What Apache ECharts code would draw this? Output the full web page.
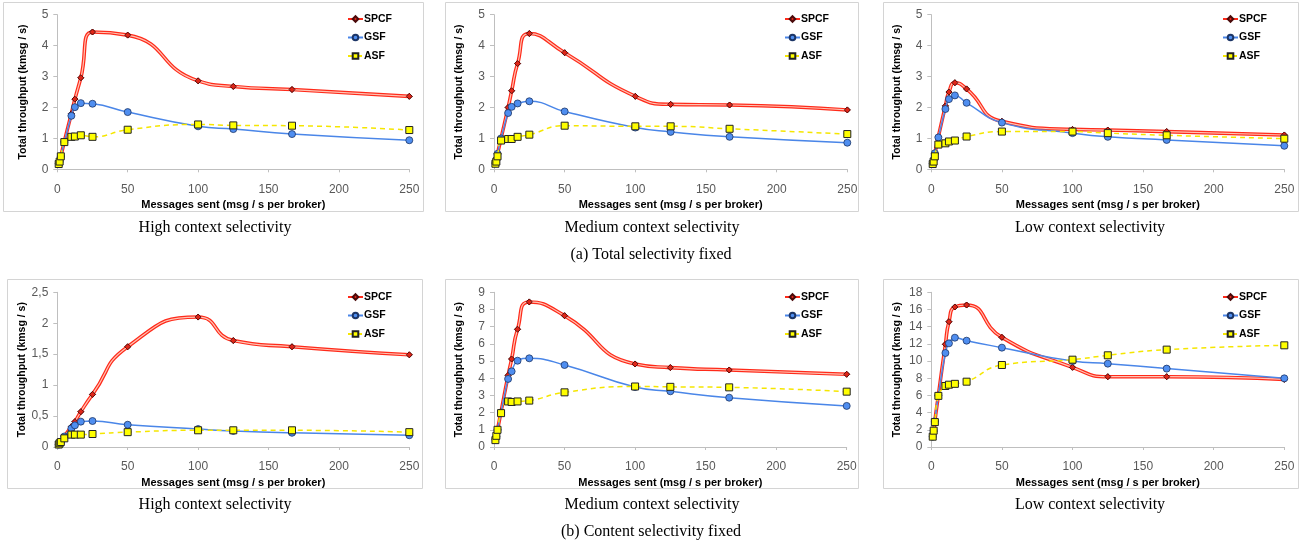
<!DOCTYPE html>
<html>
<head>
<meta charset="utf-8">
<script src="https://cdn.jsdelivr.net/npm/echarts@6/dist/echarts.min.js"></script>
<style>
html,body{margin:0;padding:0;background:#fff;}
#chart{width:1302px;height:545px;}
</style>
</head>
<body>
<div id="chart"></div>
<script>
// ---- data ----
const xValues = [1, 1.67, 2.5, 5, 10, 12.5, 16.7, 25, 50, 100, 125, 166.7, 250];
const seriesNames = ['SPCF', 'GSF', 'ASF'];
const panelTitles = ['High context selectivity', 'Medium context selectivity', 'Low context selectivity',
                     'High context selectivity', 'Medium context selectivity', 'Low context selectivity'];
const groupCaptions = ['(a) Total selectivity fixed', '(b) Content selectivity fixed'];
const xAxisTitle = 'Messages sent (msg / s per broker)';
const yAxisTitle = 'Total throughput (kmsg / s)';
const xTicks = { min: 0, max: 250, interval: 50 };
const yMax = [5, 5, 5, 2.5, 9, 18];
const yInterval = [1, 1, 1, 0.5, 1, 2];

// (a) Total selectivity fixed
const totalHighSPCF = [0.2, 0.28, 0.42, 0.9, 1.8, 2.27, 2.96, 4.44, 4.34, 2.86, 2.68, 2.58, 2.36];
const totalHighGSF  = [0.18, 0.25, 0.42, 0.88, 1.73, 2.01, 2.14, 2.12, 1.85, 1.39, 1.30, 1.14, 0.94];
const totalHighASF  = [0.17, 0.25, 0.42, 0.88, 1.05, 1.06, 1.10, 1.05, 1.28, 1.45, 1.42, 1.41, 1.27];

const totalMedSPCF  = [0.2, 0.3, 0.5, 1.0, 2.0, 2.54, 3.42, 4.39, 3.77, 2.36, 2.10, 2.08, 1.92];
const totalMedGSF   = [0.2, 0.3, 0.5, 1.0, 1.82, 2.02, 2.13, 2.20, 1.87, 1.35, 1.21, 1.05, 0.86];
const totalMedASF   = [0.18, 0.25, 0.42, 0.93, 0.98, 0.98, 1.05, 1.12, 1.41, 1.39, 1.39, 1.31, 1.14];

const totalLowSPCF  = [0.2, 0.3, 0.5, 1.05, 2.05, 2.5, 2.8, 2.6, 1.55, 1.29, 1.27, 1.22, 1.11];
const totalLowGSF   = [0.18, 0.3, 0.52, 1.03, 1.95, 2.27, 2.39, 2.15, 1.51, 1.17, 1.05, 0.95, 0.76];
const totalLowASF   = [0.17, 0.25, 0.42, 0.8, 0.84, 0.9, 0.93, 1.06, 1.22, 1.22, 1.17, 1.10, 0.99];

// (b) Content selectivity fixed
const contHighSPCF  = [0.04, 0.06, 0.08, 0.17, 0.33, 0.41, 0.57, 0.85, 1.62, 2.10, 1.72, 1.62, 1.49];
const contHighGSF   = [0.04, 0.06, 0.08, 0.17, 0.30, 0.35, 0.41, 0.42, 0.36, 0.29, 0.26, 0.23, 0.19];
const contHighASF   = [0.04, 0.06, 0.08, 0.14, 0.20, 0.20, 0.20, 0.21, 0.24, 0.27, 0.27, 0.27, 0.24];

const contMedSPCF   = [0.45, 0.6, 1.0, 2.05, 4.17, 5.12, 6.85, 8.44, 7.64, 4.83, 4.62, 4.48, 4.23];
const contMedGSF    = [0.45, 0.6, 1.0, 2.0, 3.96, 4.40, 5.02, 5.16, 4.77, 3.49, 3.24, 2.87, 2.39];
const contMedASF    = [0.4, 0.65, 1.0, 1.97, 2.65, 2.62, 2.65, 2.70, 3.18, 3.52, 3.50, 3.47, 3.22];

const contLowSPCF   = [1.3, 1.8, 3.0, 6.0, 11.95, 14.58, 16.29, 16.52, 12.76, 9.27, 8.18, 8.18, 7.87];
const contLowGSF    = [1.2, 1.9, 3.0, 6.0, 10.94, 12.06, 12.72, 12.37, 11.56, 10.0, 9.7, 9.12, 7.99];
const contLowASF    = [1.2, 1.9, 2.9, 5.95, 7.1, 7.25, 7.35, 7.6, 9.54, 10.16, 10.67, 11.33, 11.83];

const panels = [
  [totalHighSPCF, totalHighGSF, totalHighASF],
  [totalMedSPCF, totalMedGSF, totalMedASF],
  [totalLowSPCF, totalLowGSF, totalLowASF],
  [contHighSPCF, contHighGSF, contHighASF],
  [contMedSPCF, contMedGSF, contMedASF],
  [contLowSPCF, contLowGSF, contLowASF]
];

// ---- layout ----
const gridBoxes = [
  {left: 57.3, top: 14.7, width: 352, height: 154.6},
  {left: 494, top: 14.7, width: 353.3, height: 154.6},
  {left: 931.3, top: 14.7, width: 353, height: 154.6},
  {left: 57.3, top: 292.3, width: 352, height: 154.7},
  {left: 494, top: 292.3, width: 352.7, height: 154.7},
  {left: 931.3, top: 292.3, width: 353, height: 154.7}
];
const frames = [
  {x: 3, y: 2, w: 420, h: 209}, {x: 445, y: 2, w: 413, h: 209}, {x: 883, y: 2, w: 415, h: 209},
  {x: 7, y: 279, w: 415, h: 209}, {x: 445, y: 279, w: 413, h: 209}, {x: 883, y: 279, w: 415, h: 209}
];
const legendPos = [
  {left: 347, top: 13}, {left: 784, top: 13}, {left: 1222, top: 13},
  {left: 347, top: 291}, {left: 784, top: 291}, {left: 1222, top: 291}
];
const captionPos = [[215, 228], [652, 228], [1090, 228], [215, 505], [652, 505], [1090, 505]];
const groupCaptionPos = [[651, 255], [651, 532]];

const labelColor = '#595959';
const axisColor = '#bfbfbf';
const sansFont = '"Liberation Sans", Arial, sans-serif';
const serifFont = '"Liberation Serif", "DejaVu Serif", serif';

const fmt = v => String(v).replace('.', ',');

const grids = [], xAxes = [], yAxes = [], series = [], legends = [], graphics = [];
gridBoxes.forEach((g, i) => {
  grids.push(Object.assign({containLabel: false}, g));
  xAxes.push({
    type: 'value', gridIndex: i, min: xTicks.min, max: xTicks.max, interval: xTicks.interval,
    name: xAxisTitle, nameLocation: 'middle', nameGap: 30,
    nameTextStyle: {fontFamily: sansFont, fontWeight: 'bold', fontSize: 11, color: '#000'},
    axisLine: {show: true, lineStyle: {color: axisColor, width: 1}},
    axisTick: {show: true, length: 3, lineStyle: {color: axisColor}},
    axisLabel: {fontFamily: sansFont, fontSize: 12, color: labelColor, margin: 14},
    splitLine: {show: false}
  });
  yAxes.push({
    type: 'value', gridIndex: i, min: 0, max: yMax[i], interval: yInterval[i],
    name: yAxisTitle, nameLocation: 'middle', nameGap: 29, nameRotate: 90,
    nameTextStyle: {fontFamily: sansFont, fontWeight: 'bold', fontSize: 10.5, color: '#000'},
    axisLine: {show: true, lineStyle: {color: axisColor, width: 1}},
    axisTick: {show: true, length: 4, lineStyle: {color: axisColor}},
    axisLabel: {fontFamily: sansFont, fontSize: 12, color: labelColor, margin: 9, formatter: fmt},
    splitLine: {show: false}
  });
  const toPairs = arr => xValues.map((x, k) => [x, arr[k]]);
  const [spcf, gsf, asf] = panels[i];
  series.push({
    name: 'SPCF', type: 'line', xAxisIndex: i, yAxisIndex: i, smooth: 0.55, data: toPairs(spcf),
    symbol: 'diamond', symbolSize: 6, showSymbol: true,
    itemStyle: {color: '#e02618', borderColor: '#4a0a0a', borderWidth: 0.8},
    lineStyle: {color: '#ff2a1a', width: 3.6}, z: 2, animation: false
  });
  series.push({
    name: 'SPCF-inner', type: 'line', xAxisIndex: i, yAxisIndex: i, smooth: 0.55, data: toPairs(spcf),
    symbol: 'diamond', symbolSize: 6, showSymbol: true, silent: true,
    itemStyle: {color: '#e02618', borderColor: '#4a0a0a', borderWidth: 0.8},
    lineStyle: {color: '#ffc4b4', width: 1.2}, z: 3, animation: false
  });
  series.push({
    name: 'GSF', type: 'line', xAxisIndex: i, yAxisIndex: i, smooth: 0.5, data: toPairs(gsf),
    symbol: 'circle', symbolSize: 7, showSymbol: true,
    itemStyle: {color: '#4f8ef0', borderColor: '#1c3566', borderWidth: 0.8},
    lineStyle: {color: '#4a86e8', width: 1.5}, z: 4, animation: false
  });
  series.push({
    name: 'ASF', type: 'line', xAxisIndex: i, yAxisIndex: i, smooth: 0.5, data: toPairs(asf),
    symbol: 'rect', symbolSize: 7, showSymbol: true,
    itemStyle: {color: '#ffff00', borderColor: '#222', borderWidth: 1},
    lineStyle: {color: '#f5e600', width: 1.5, type: [5, 4]}, z: 5, animation: false
  });
  legends.push({
    data: seriesNames, orient: 'vertical', left: legendPos[i].left, top: legendPos[i].top,
    itemWidth: 15, itemHeight: 7, itemGap: 6.5, padding: 0, selectedMode: false,
    textStyle: {fontFamily: sansFont, fontWeight: 'bold', fontSize: 10.5, lineHeight: 12, color: '#000', padding: [0, 0, 0, -4]}
  });
  const f = frames[i];
  graphics.push({type: 'rect', shape: {x: f.x + 0.5, y: f.y + 0.5, width: f.w, height: f.h},
    style: {fill: 'none', stroke: '#d4d4d4', lineWidth: 1}, silent: true, z: -1});
  graphics.push({type: 'text', x: captionPos[i][0], y: captionPos[i][1],
    style: {text: panelTitles[i], font: '16px ' + serifFont, fill: '#000', textAlign: 'center', textVerticalAlign: 'middle'}});
});
groupCaptions.forEach((c, i) => {
  graphics.push({type: 'text', x: groupCaptionPos[i][0], y: groupCaptionPos[i][1],
    style: {text: c, font: '16px ' + serifFont, fill: '#000', textAlign: 'center', textVerticalAlign: 'middle'}});
});

const chart = echarts.init(document.getElementById('chart'), null, {renderer: 'canvas'});
chart.setOption({
  animation: false,
  backgroundColor: '#fff',
  grid: grids, xAxis: xAxes, yAxis: yAxes, series: series, legend: legends, graphic: graphics
});
</script>
</body>
</html>
